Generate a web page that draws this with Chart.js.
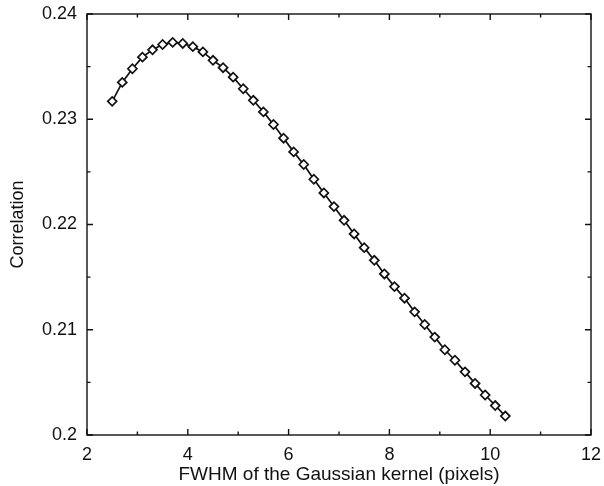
<!DOCTYPE html>
<html>
<head>
<meta charset="utf-8">
<script src="https://cdn.jsdelivr.net/npm/chart.js@4"></script>
<style>
  html, body { margin: 0; padding: 0; background: #fff; }
  #wrap { width: 604px; height: 486px; position: relative; }
</style>
</head>
<body>
<div id="wrap"><canvas id="corrChart"></canvas></div>
<script>
// FWHM of the smoothing kernel (pixels) and the correlation
const fwhm = [2.5, 2.7, 2.9, 3.1, 3.3, 3.5, 3.7, 3.9, 4.1, 4.3, 4.5, 4.7, 4.9, 5.1, 5.3, 5.5, 5.7, 5.9, 6.1, 6.3,
  6.5, 6.7, 6.9, 7.1, 7.3, 7.5, 7.7, 7.9, 8.1, 8.3, 8.5, 8.7, 8.9, 9.1, 9.3, 9.5, 9.7, 9.9, 10.1, 10.3];
const correlation = [0.2317, 0.2335, 0.2348, 0.2359, 0.2366, 0.2371, 0.2373, 0.2372, 0.2369, 0.2364,
  0.2356, 0.2349, 0.2340, 0.2329, 0.2318, 0.2307, 0.2295, 0.2282, 0.2269, 0.2257,
  0.2243, 0.2230, 0.2217, 0.2204, 0.2191, 0.2178, 0.2166, 0.2153, 0.2141, 0.2130,
  0.2117, 0.2105, 0.2093, 0.2081, 0.2071, 0.2060, 0.2049, 0.2038, 0.2028, 0.2018];

const xMajorTicks = [2, 4, 6, 8, 10, 12];
const xMinorTicks = [3, 5, 7, 9, 11];
const yMajorTicks = [0.2, 0.21, 0.22, 0.23, 0.24];
const yMinorTicks = [0.205, 0.215, 0.225, 0.235];
const yTickLabels = ['0.2', '0.21', '0.22', '0.23', '0.24'];

const ink = '#111';
const fontFamily = '"Liberation Sans", Arial, Helvetica, sans-serif';

// box around the plot with inward ticks on all four sides
const frameTicks = {
  id: 'frameTicks',
  afterDraw(chart) {
    const { ctx, chartArea: a, scales: { x, y } } = chart;
    ctx.save();
    ctx.strokeStyle = ink;
    ctx.lineWidth = 1.4;
    ctx.strokeRect(a.left, a.top, a.right - a.left, a.bottom - a.top);
    ctx.beginPath();
    const xTick = (v, len) => {
      const px = x.getPixelForValue(v);
      ctx.moveTo(px, a.bottom); ctx.lineTo(px, a.bottom - len);
      ctx.moveTo(px, a.top); ctx.lineTo(px, a.top + len);
    };
    const yTick = (v, len) => {
      const py = y.getPixelForValue(v);
      ctx.moveTo(a.left, py); ctx.lineTo(a.left + len, py);
      ctx.moveTo(a.right, py); ctx.lineTo(a.right - len, py);
    };
    xMajorTicks.forEach(v => xTick(v, 6));
    xMinorTicks.forEach(v => xTick(v, 3.5));
    yMajorTicks.forEach(v => yTick(v, 6));
    yMinorTicks.forEach(v => yTick(v, 3.5));
    ctx.stroke();
    ctx.restore();
  }
};

// fixed axis box sizes, no label overhang padding
const fixBox = size => s => {
  if (s.isHorizontal()) s.height = size; else s.width = size;
  s.paddingLeft = 0; s.paddingRight = 0; s.paddingTop = 0; s.paddingBottom = 0;
};

new Chart(document.getElementById('corrChart'), {
  type: 'line',
  data: {
    datasets: [{
      data: fwhm.map((f, i) => ({ x: f, y: correlation[i] })),
      borderColor: ink,
      borderWidth: 1.7,
      tension: 0,
      pointStyle: 'rectRot',
      pointRadius: 4.5,
      pointBorderWidth: 1.7,
      pointBorderColor: ink,
      pointBackgroundColor: '#fff'
    }]
  },
  options: {
    responsive: true,
    maintainAspectRatio: false,
    animation: false,
    layout: { padding: { top: 14, right: 13, left: 0, bottom: 0 } },
    plugins: { legend: { display: false }, tooltip: { enabled: false } },
    scales: {
      x: {
        type: 'linear',
        min: 2,
        max: 12,
        afterBuildTicks: s => { s.ticks = xMajorTicks.map(v => ({ value: v })); },
        afterFit: fixBox(51),
        grid: { display: false, drawTicks: false },
        border: { display: false },
        ticks: { color: ink, padding: 9, maxRotation: 0, font: { family: fontFamily, size: 18 } },
        title: {
          display: true,
          text: 'FWHM of the Gaussian kernel (pixels)',
          color: ink,
          padding: { top: 0, bottom: 0 },
          font: { family: fontFamily, size: 19 }
        }
      },
      y: {
        min: 0.2,
        max: 0.24,
        afterBuildTicks: s => { s.ticks = yMajorTicks.map(v => ({ value: v })); },
        afterFit: fixBox(87),
        grid: { display: false, drawTicks: false },
        border: { display: false },
        ticks: {
          color: ink,
          padding: 10,
          font: { family: fontFamily, size: 18 },
          callback: (v, i) => yTickLabels[i]
        },
        title: {
          display: true,
          text: 'Correlation',
          color: ink,
          padding: { top: 7, bottom: 0 },
          font: { family: fontFamily, size: 18 }
        }
      }
    }
  },
  plugins: [frameTicks]
});
</script>
</body>
</html>
